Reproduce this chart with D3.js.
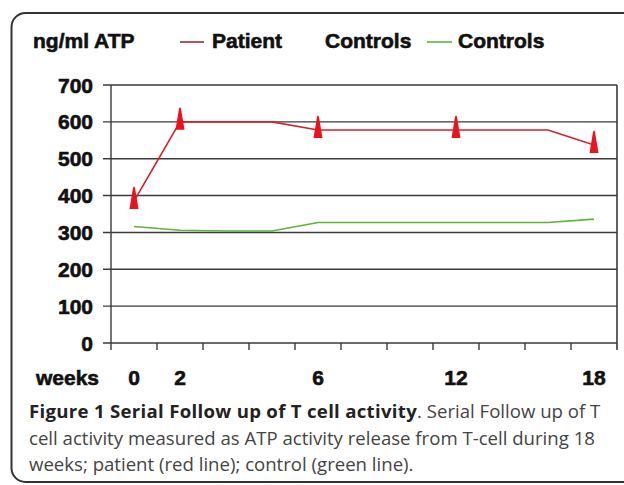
<!DOCTYPE html>
<html>
<head>
<meta charset="utf-8">
<script src="https://cdn.jsdelivr.net/npm/d3@7"></script>
<style>
    body { margin: 0; background: #fff; }
    .axisText { font-family: "Liberation Sans", Arial, sans-serif; font-weight: bold; font-size: 21px; fill: #111; stroke: #111; stroke-width: 0.6px; }
    .caption { font-family: "Open Sans", sans-serif; font-size: 18.6px; fill: #444; }
    .caption .bold { font-weight: bold; fill: #222; letter-spacing: 0.3px; }
</style>
</head>
<body>
<div id="chart"></div>
<script>

//week labels for each category slot (empty slots carry no label and no marker)
var weekLabels = ["0", "2", "", "", "6", "", "", "12", "", "", "18"];
//ng/ml ATP values
var patientValues = [385, 600, 600, 600, 578, 578, 578, 578, 578, 578, 537];
var controlValues = [316, 306, 304, 304, 327, 327, 327, 327, 327, 327, 336];
var yTicks = [0, 100, 200, 300, 400, 500, 600, 700];
var legendLabels = ["Patient", "Controls", "Controls"];
var captionBold = "Figure 1 Serial Follow up of T cell activity";
var captionLines = [". Serial Follow up of T",
    "cell activity measured as ATP activity release from T-cell during 18",
    "weeks; patient (red line); control (green line)."];

/**
 * Constructor for the line chart
 */
function LineChart(){
    var self = this;
    self.init();
};

/**
 * Creates the svg, the frame and the scales
 */
LineChart.prototype.init = function(){
    var self = this;
    self.svgWidth = 624;
    self.svgHeight = 485;

    self.svg = d3.select("#chart").append("svg")
        .attr("width", self.svgWidth)
        .attr("height", self.svgHeight);

    //rounded frame, the right side runs off the page
    self.svg.append("rect")
        .attr("x", 11.5)
        .attr("y", 13)
        .attr("width", 700)
        .attr("height", 469)
        .attr("rx", 14)
        .style("fill", "white")
        .style("stroke", "#333")
        .style("stroke-width", 2);

    self.x = d3.scaleBand()
        .domain(d3.range(weekLabels.length))
        .range([111, 617]);

    self.y = d3.scaleLinear()
        .domain([0, 700])
        .range([343, 85]);
};

/**
 * Draws grid, axes, lines, markers, legend and caption
 */
LineChart.prototype.update = function(){
    var self = this;
    var x = self.x, y = self.y;
    var xc = function(i){ return x(i) + x.bandwidth()/2; };

    //horizontal gridlines, these stick out left of the axis like ticks
    self.svg.append("g").selectAll("line")
        .data(yTicks)
        .enter().append("line")
        .attr("x1", 103)
        .attr("x2", 617)
        .attr("y1", function(d){ return y(d); })
        .attr("y2", function(d){ return y(d); })
        .style("stroke", "#3a3a3a")
        .style("stroke-width", 1.4);

    //y axis and right border
    self.svg.append("line")
        .attr("x1", 111).attr("x2", 111)
        .attr("y1", y(700)).attr("y2", y(0) + 7)
        .style("stroke", "#3a3a3a").style("stroke-width", 1.4);
    self.svg.append("line")
        .attr("x1", 617).attr("x2", 617)
        .attr("y1", y(700)).attr("y2", y(0) + 7)
        .style("stroke", "#3a3a3a").style("stroke-width", 1.6);

    //ticks between categories
    var bounds = d3.range(1, weekLabels.length).map(function(i){ return x(i); });
    self.svg.append("g").selectAll("line")
        .data(bounds)
        .enter().append("line")
        .attr("x1", function(d){ return d; })
        .attr("x2", function(d){ return d; })
        .attr("y1", y(0))
        .attr("y2", y(0) + 7)
        .style("stroke", "#3a3a3a")
        .style("stroke-width", 1.4);

    //y tick labels
    self.svg.append("g").selectAll("text")
        .data(yTicks)
        .enter().append("text")
        .attr("class", "axisText")
        .attr("x", 93)
        .attr("y", function(d){ return y(d); })
        .attr("dy", "0.36em")
        .attr("text-anchor", "end")
        .text(function(d){ return d; });

    //x tick labels
    self.svg.append("text")
        .attr("class", "axisText")
        .attr("x", 36)
        .attr("y", 385)
        .text("weeks");
    self.svg.append("g").selectAll("text")
        .data(weekLabels)
        .enter().append("text")
        .attr("class", "axisText")
        .attr("x", function(d, i){ return xc(i); })
        .attr("y", 385)
        .attr("text-anchor", "middle")
        .text(function(d){ return d; });

    //series lines
    var line = d3.line()
        .x(function(d, i){ return xc(i); })
        .y(function(d){ return y(d); });

    self.svg.append("path")
        .datum(controlValues)
        .attr("d", line)
        .style("fill", "none")
        .style("stroke", "#5fb336")
        .style("stroke-width", 1.6);

    self.svg.append("path")
        .datum(patientValues)
        .attr("d", line)
        .style("fill", "none")
        .style("stroke", "#d2232a")
        .style("stroke-width", 1.6);

    //spike markers only at the labelled weeks
    var marked = patientValues.map(function(v, i){ return {i: i, v: v}; })
        .filter(function(d){ return weekLabels[d.i] != ""; });

    self.svg.append("g").selectAll("path")
        .data(marked)
        .enter().append("path")
        .attr("d", function(d){
            var cx = xc(d.i), cy = y(d.v);
            return "M" + (cx - 4.5) + "," + (cy + 8) +
                "L" + (cx - 1) + "," + (cy - 13) +
                "Q" + cx + "," + (cy - 16) + " " + (cx + 1) + "," + (cy - 13) +
                "L" + (cx + 4.5) + "," + (cy + 8) + "Z";
        })
        .style("fill", "#e8131c");

    //legend
    var legend = self.svg.append("g");
    legend.append("text").attr("class", "axisText")
        .attr("x", 33).attr("y", 48).text("ng/ml ATP");
    legend.append("line")
        .attr("x1", 180).attr("x2", 204).attr("y1", 42).attr("y2", 42)
        .style("stroke", "#a8283f").style("stroke-width", 1.6);
    legend.append("text").attr("class", "axisText")
        .attr("x", 212).attr("y", 48).text(legendLabels[0]);
    legend.append("text").attr("class", "axisText")
        .attr("x", 325).attr("y", 48).text(legendLabels[1]);
    legend.append("line")
        .attr("x1", 427).attr("x2", 452).attr("y1", 42).attr("y2", 42)
        .style("stroke", "#5fb336").style("stroke-width", 1.6);
    legend.append("text").attr("class", "axisText")
        .attr("x", 458).attr("y", 48).text(legendLabels[2]);

    //figure caption
    var cap = self.svg.append("text").attr("class", "caption");
    var first = cap.append("tspan").attr("x", 29).attr("y", 418);
    first.append("tspan").attr("class", "bold").text(captionBold);
    first.append("tspan").text(captionLines[0]);
    cap.append("tspan").attr("x", 29).attr("y", 445).text(captionLines[1]);
    cap.append("tspan").attr("x", 29).attr("y", 471).text(captionLines[2]);
};

var chart = new LineChart();
chart.update();

</script>
</body>
</html>
